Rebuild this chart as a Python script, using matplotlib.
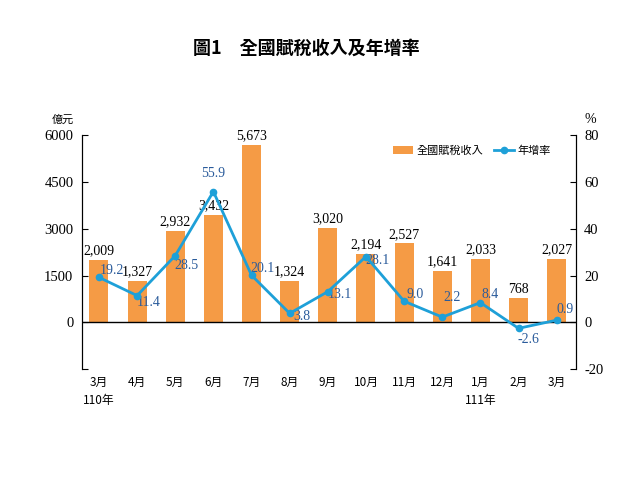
import matplotlib
matplotlib.use('Agg')
import matplotlib.pyplot as plt
import numpy as np

plt.rcParams['font.family'] = ['Liberation Serif', 'Noto Sans CJK TC']
plt.rcParams['axes.unicode_minus'] = False

# data
months = ['3月\n110年', '4月', '5月', '6月', '7月', '8月', '9月', '10月',
          '11月', '12月', '1月\n111年', '2月', '3月']
revenue = [2009, 1327, 2932, 3432, 5673, 1324, 3020, 2194, 2527, 1641, 2033, 768, 2027]
growth = [19.2, 11.4, 28.5, 55.9, 20.1, 3.8, 13.1, 28.1, 9.0, 2.2, 8.4, -2.6, 0.9]

# label offsets for the growth-rate numbers (points), to dodge the bars/line
growth_offsets = [(9, 5), (8, -5), (8, -7), (0, 13), (8, 5), (9, -2), (9, -2),
                  (8, -3), (8, 5), (7, 14), (7, 6), (7, -8), (6, 8)]

bar_color = '#f59b45'
line_color = '#1ea0d8'

fig = plt.figure(figsize=(6.44, 4.83), dpi=100)
ax = fig.add_axes([0.127, 0.236, 0.767, 0.484])
ax2 = ax.twinx()

x = np.arange(len(months))
ax.bar(x, revenue, 0.5, color=bar_color, label='全國賦稅收入', zorder=2)
ax.axhline(0, color='black', lw=1.0, zorder=3)

for xi, v in zip(x, revenue):
    ax.annotate(f'{v:,}', (xi, v), xytext=(0, 2), textcoords='offset points',
                ha='center', va='bottom', fontsize=10, color='black')

ax2.plot(x, growth, color=line_color, lw=2, marker='o', markersize=4.5,
         label='年增率', zorder=4)
for xi, g, off in zip(x, growth, growth_offsets):
    ax2.annotate(f'{g:.1f}', (xi, g), xytext=off, textcoords='offset points',
                 ha='center', va='center', fontsize=10, color='#2a5b9b')

ax.set_xlim(-0.45, 12.5)
ax.set_ylim(-1500, 6000)
ax2.set_ylim(-20, 80)
ax.set_yticks([-1500, 0, 1500, 3000, 4500, 6000])
ax.set_yticklabels(['', '0', '1500', '3000', '4500', '6000'])
ax2.set_yticks([-20, 0, 20, 40, 60, 80])

ax.set_xticks(x)
ax.set_xticklabels(months, family=['Noto Sans CJK TC'], fontsize=8.5, linespacing=1.5)
ax.tick_params(axis='x', length=0, pad=5)
ax.tick_params(axis='y', direction='in', length=4, labelsize=10.5, pad=6)
ax2.tick_params(axis='y', direction='in', length=4, labelsize=10.5, pad=6)

for a in (ax, ax2):
    a.spines['top'].set_visible(False)
    a.spines['bottom'].set_visible(False)
ax2.set_zorder(2)
ax.set_zorder(1)
ax.set_facecolor('none')
ax2.patch.set_visible(False)

fig.text(0.097, 0.745, '億元', family=['Noto Sans CJK TC'], fontsize=8, ha='center')
fig.text(0.917, 0.745, '%', fontsize=10, ha='center')
fig.text(0.475, 0.888, '圖1　全國賦稅收入及年增率', family=['Noto Sans CJK TC'],
         fontsize=13, fontweight='bold', ha='center')

h1, l1 = ax.get_legend_handles_labels()
h2, l2 = ax2.get_legend_handles_labels()
ax2.legend(h1 + h2, l1 + l2, loc='upper right', bbox_to_anchor=(0.97, 1.0), ncol=2,
           frameon=False, prop={'family': 'Noto Sans CJK TC', 'size': 8},
           handlelength=1.8, columnspacing=1.0, handletextpad=0.3)

fig.savefig('out.png', dpi=100)
